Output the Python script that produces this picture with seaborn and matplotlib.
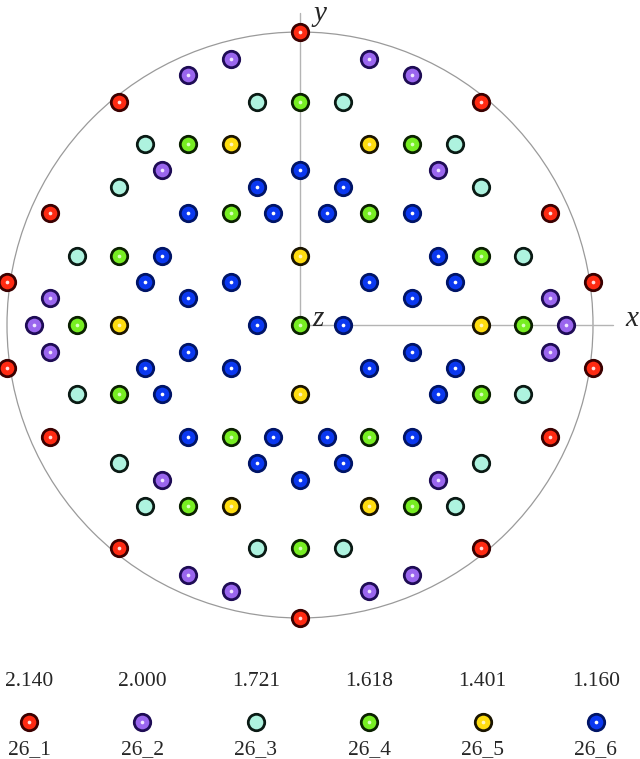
import numpy as np
import pandas as pd
import matplotlib
matplotlib.use("Agg")
import matplotlib.pyplot as plt
from matplotlib.patches import Circle
import seaborn as sns

# families, their d-spacings and colours
families = ['26_1', '26_2', '26_3', '26_4', '26_5', '26_6']
d_values = ['2.140', '2.000', '1.721', '1.618', '1.401', '1.160']
fill_colors = ['#ff2a12', '#9a66ee', '#aef3df', '#77ee22', '#ffdd10', '#0a38f0']
edge_colors = ['#3a0000', '#1e0c55', '#0a1a14', '#0a2000', '#1a1400', '#001466']
dot_colors = ['#ffe0e0', '#f0e6ff', None, '#d8ffc0', '#fff6c0', '#ffffff']

# projected pole positions (unit circle = primitive)
x_26_1 = [0, -0.618, 0.618, -0.853, 0.853, -1.0, 1.0, -1.0, 1.0, -0.853, 0.853, -0.618, 0.618, 0]
y_26_1 = [1.0, 0.761, 0.761, 0.382, 0.382, 0.147, 0.147, -0.147, -0.147, -0.382, -0.382, -0.761, -0.761, -1.0]

x_26_2 = [-0.235, -0.382, 0.235, 0.382, -0.471, 0.471, -0.471, 0.471, -0.853, -0.908, -0.853,
          0.853, 0.908, 0.853, -0.382, -0.235, 0.382, 0.235]
y_26_2 = [0.908, 0.853, 0.908, 0.853, 0.529, 0.529, -0.529, -0.529, 0.092, 0, -0.092,
          0.092, 0, -0.092, -0.853, -0.908, -0.853, -0.908]

x_26_3 = [-0.147, -0.529, -0.618, -0.761, 0.147, 0.529, 0.618, 0.761,
          -0.761, -0.618, -0.529, -0.147, 0.761, 0.618, 0.529, 0.147]
y_26_3 = [0.761, 0.618, 0.471, 0.235, 0.761, 0.618, 0.471, 0.235,
          -0.235, -0.471, -0.618, -0.761, -0.235, -0.471, -0.618, -0.761]

x_26_4 = [0, -0.382, -0.235, -0.618, -0.761, 0, 0.382, 0.235, 0.618, 0.761,
          -0.618, -0.235, -0.382, 0, 0.618, 0.235, 0.382]
y_26_4 = [0.761, 0.618, 0.382, 0.235, 0, 0, 0.618, 0.382, 0.235, 0,
          -0.235, -0.382, -0.618, -0.761, -0.235, -0.382, -0.618]

x_26_5 = [-0.235, 0, -0.618, 0.235, 0.618, 0, -0.235, 0.235]
y_26_5 = [0.618, 0.235, 0, 0.618, 0, -0.235, -0.618, -0.618]

x_26_6 = [0, -0.147, -0.382, -0.092, -0.471, -0.529, -0.235, -0.382, -0.147,
          0.147, 0.092, 0.382, 0.471, 0.235, 0.529, 0.382, 0.147,
          -0.382, -0.529, -0.235, -0.471, -0.382, -0.092, -0.147, 0,
          0.382, 0.235, 0.529, 0.471, 0.092, 0.382, 0.147]
y_26_6 = [0.529, 0.471, 0.382, 0.382, 0.235, 0.147, 0.147, 0.092, 0,
          0.471, 0.382, 0.382, 0.235, 0.147, 0.147, 0.092, 0,
          -0.092, -0.147, -0.147, -0.235, -0.382, -0.382, -0.471, -0.529,
          -0.092, -0.147, -0.147, -0.235, -0.382, -0.382, -0.471]

xs = [x_26_1, x_26_2, x_26_3, x_26_4, x_26_5, x_26_6]
ys = [y_26_1, y_26_2, y_26_3, y_26_4, y_26_5, y_26_6]

frames = []
for fam, xv, yv in zip(families, xs, ys):
    frames.append(pd.DataFrame({'x': xv, 'y': yv, 'family': fam}))
poles = pd.concat(frames, ignore_index=True)

sns.set_style("white")
plt.rcParams['font.family'] = ['Liberation Serif', 'DejaVu Serif']

fig = plt.figure(figsize=(6.4, 7.59), dpi=100)
ax = fig.add_axes([0, 0, 1, 1])
scale = 293.0
ax.set_xlim(-300 / scale, 340 / scale)
ax.set_ylim(-434 / scale, 325 / scale)
ax.set_aspect('equal')
ax.axis('off')

# primitive circle and axes
ax.add_patch(Circle((0, 0), 1.0, fill=False, edgecolor='#9a9a9a', lw=0.9, zorder=1))
ax.plot([0, 0], [0, 1.065], color='#b4b4b4', lw=1.0, zorder=1)
ax.plot([0, 1.068], [0, 0], color='#b4b4b4', lw=1.0, zorder=1)
ax.text(0.068, 1.106, 'y', fontsize=21, style='italic', ha='center', va='top')
ax.text(1.133, 0.02, 'x', fontsize=21, style='italic', ha='center', va='center')
ax.text(0.062, 0.02, 'z', fontsize=21, style='italic', ha='center', va='center')

# poles, one family at a time
for i, fam in enumerate(families):
    sub = poles[poles['family'] == fam]
    sns.scatterplot(data=sub, x='x', y='y', ax=ax, s=140, color=fill_colors[i],
                    edgecolor=edge_colors[i], linewidth=2.0, zorder=3, legend=False)
    if dot_colors[i] is not None:
        sns.scatterplot(data=sub, x='x', y='y', ax=ax, s=7, color=dot_colors[i],
                        linewidth=0, zorder=4, legend=False)

# legend row underneath
leg_x = [(-0.925 + 0.387 * i) for i in range(len(families))]
for i, fam in enumerate(families):
    ax.text(leg_x[i], -1.218, d_values[i], fontsize=15.5, ha='center', va='center')
    ax.text(leg_x[i], -1.466, fam, fontsize=15.5, ha='center', va='baseline')
    ax.scatter([leg_x[i]], [-1.355], s=140, color=fill_colors[i],
               edgecolor=edge_colors[i], linewidth=2.0, zorder=3)
    if dot_colors[i] is not None:
        ax.scatter([leg_x[i]], [-1.355], s=7, color=dot_colors[i], linewidth=0, zorder=4)
ax.set_xlabel('')
ax.set_ylabel('')

fig.savefig('out.png', dpi=100)
